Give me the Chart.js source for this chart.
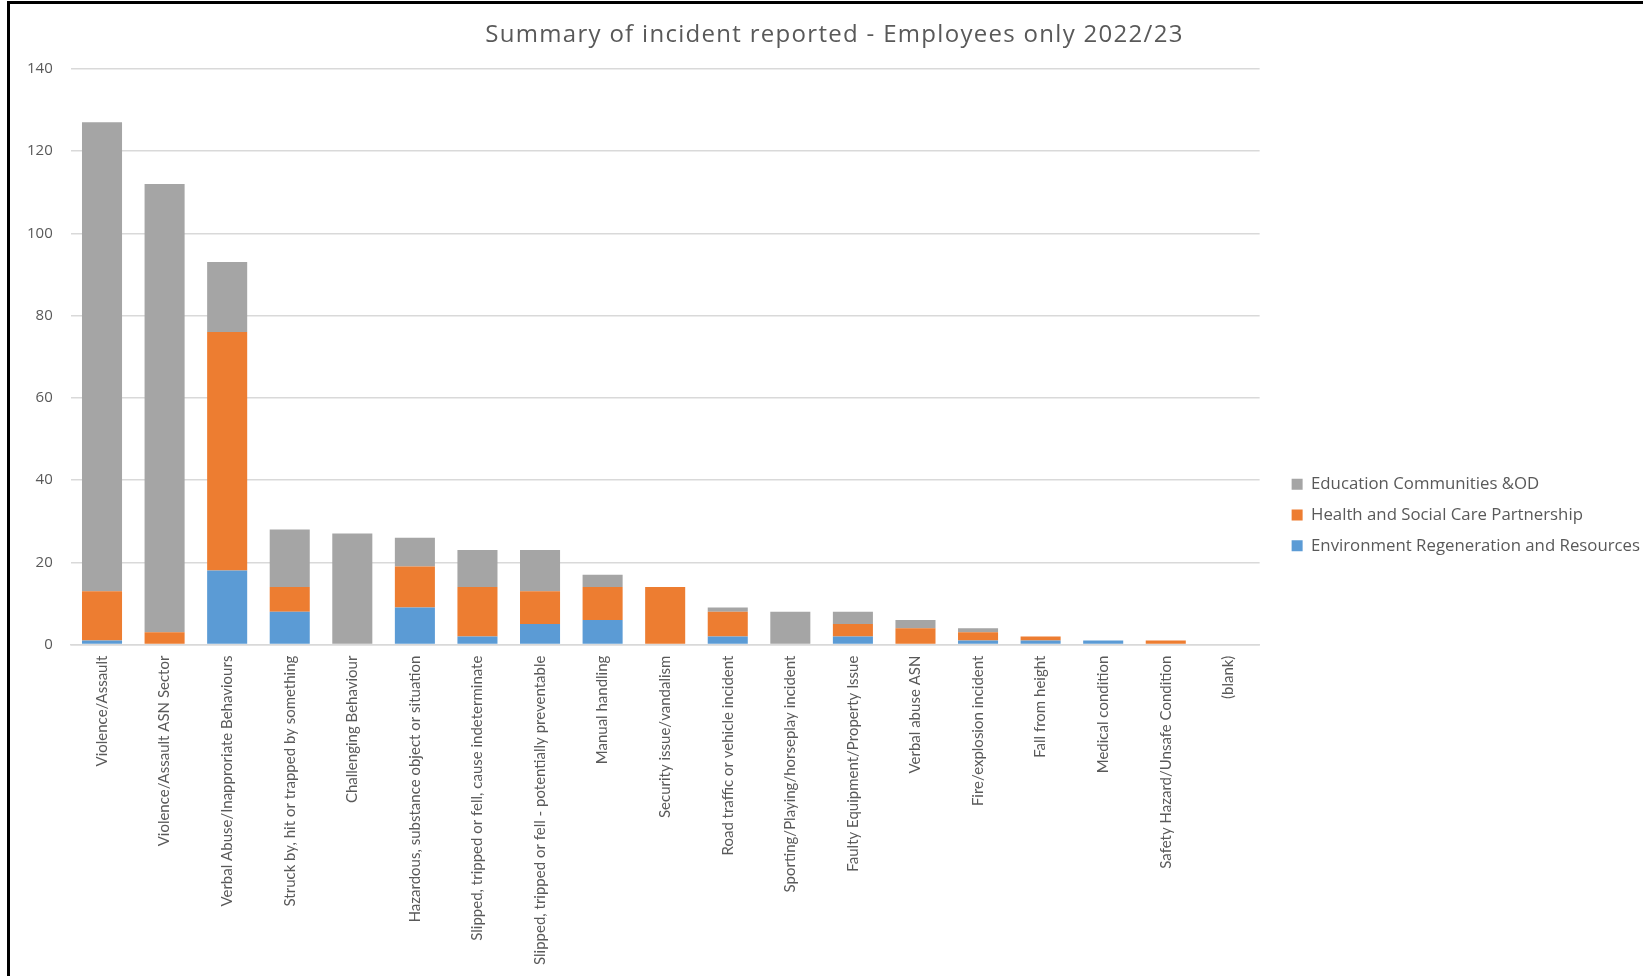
<!DOCTYPE html>
<html lang="en">
<head>
    <meta charset="UTF-8">
    <title>Summary of incident reported - Employees only 2022/23</title>
    <script src="https://cdn.jsdelivr.net/npm/chart.js"></script>
    <style>
        body { margin: 0; background: #fff; }
        .frame { position: relative; width: 1643px; height: 976px; overflow: hidden; }
        .frame canvas { position: absolute; left: 0; top: 0; }
        .edge-top { position: absolute; left: 7px; top: 1px; width: 1636px; height: 3px; background: #000; }
        .edge-left { position: absolute; left: 7px; top: 1px; width: 3px; height: 975px; background: #000; }
    </style>
</head>
<body>
    <div class="frame">
        <canvas id="incidentChart" width="1643" height="976"></canvas>
        <div class="edge-top"></div>
        <div class="edge-left"></div>
    </div>
    <script>
        // incident types, in the order shown on the x axis
        const categories = [
            'Violence/Assault',
            'Violence/Assault ASN Sector',
            'Verbal Abuse/Inapproriate Behaviours',
            'Struck by, hit or trapped by something',
            'Challenging Behaviour',
            'Hazardous, substance object or situation',
            'Slipped, tripped or fell, cause indeterminate',
            'Slipped, tripped or fell - potentially preventable',
            'Manual handling',
            'Security issue/vandalism',
            'Road traffic or vehicle incident',
            'Sporting/Playing/horseplay incident',
            'Faulty Equipment/Property Issue',
            'Verbal abuse ASN',
            'Fire/explosion incident',
            'Fall from height',
            'Medical condition',
            'Safety Hazard/Unsafe Condition',
            '(blank)'
        ];

        // counts per service (stacked bottom to top: environment, health, education)
        const environment = [1, 0, 18, 8, 0, 9, 2, 5, 6, 0, 2, 0, 2, 0, 1, 1, 1, 0, 0];
        const health      = [12, 3, 58, 6, 0, 10, 12, 8, 8, 14, 6, 0, 3, 4, 2, 1, 0, 1, 0];
        const education   = [114, 109, 17, 14, 27, 7, 9, 10, 3, 0, 1, 8, 3, 2, 1, 0, 0, 0, 0];

        const yTicks = [0, 20, 40, 60, 80, 100, 120, 140];

        const labelColor = '#595959';
        const gridColor = '#d9d9d9';

        const chartData = {
            labels: categories,
            datasets: [
                {
                    label: 'Environment Regeneration and Resources',
                    data: environment,
                    backgroundColor: '#5b9bd5'
                },
                {
                    label: 'Health and Social Care Partnership',
                    data: health,
                    backgroundColor: '#ed7d31'
                },
                {
                    label: 'Education Communities &OD',
                    data: education,
                    backgroundColor: '#a5a5a5'
                }
            ]
        };

        const config = {
            type: 'bar',
            data: chartData,
            options: {
                responsive: false,
                animation: false,
                datasets: {
                    bar: { barPercentage: 0.64, categoryPercentage: 1 }
                },
                layout: {
                    // legend text runs almost to the right edge in the original
                    padding: { left: 9, right: -7, top: 15, bottom: 0 }
                },
                plugins: {
                    title: {
                        display: true,
                        text: 'Summary of incident reported - Employees only 2022/23',
                        color: labelColor,
                        font: { family: 'Open Sans', size: 24, weight: 'normal' },
                        padding: { top: 6, bottom: 19 }
                    },
                    legend: {
                        position: 'right',
                        reverse: true,
                        // empty title just pushes the items a little lower
                        title: { display: true, text: '', font: { size: 15 }, padding: { top: 21, bottom: 0 } },
                        labels: {
                            boxWidth: 11,
                            boxHeight: 11,
                            padding: 14,
                            color: labelColor,
                            font: { family: 'Open Sans', size: 16.8 }
                        }
                    },
                    tooltip: { enabled: false }
                },
                scales: {
                    x: {
                        stacked: true,
                        grid: { display: false, drawTicks: false },
                        border: { display: true, color: gridColor, width: 1.5 },
                        ticks: {
                            autoSkip: false,
                            minRotation: 90,
                            maxRotation: 90,
                            padding: 11,
                            color: labelColor,
                            font: { family: 'Lato', size: 15 }
                        }
                    },
                    y: {
                        stacked: true,
                        min: 0,
                        max: 140,
                        afterBuildTicks: axis => { axis.ticks = yTicks.map(v => ({ value: v })); },
                        grid: { color: gridColor, lineWidth: 1.5, drawTicks: false },
                        border: { display: false },
                        ticks: {
                            padding: 18,
                            color: labelColor,
                            font: { family: 'Open Sans', size: 15 }
                        }
                    },
                    // hidden axis, only keeps a gap between plot and legend
                    gap: {
                        type: 'linear',
                        axis: 'y',
                        position: 'right',
                        display: false,
                        afterFit: axis => { axis.width = 18; }
                    }
                }
            }
        };

        const chart = new Chart(document.getElementById('incidentChart'), config);

        // the original title is spaced out a bit wider and sits slightly right
        const titleDraw = chart.titleBlock.draw.bind(chart.titleBlock);
        chart.titleBlock.draw = function () {
            const ctx = chart.ctx;
            ctx.save();
            ctx.letterSpacing = '1.3px';
            ctx.translate(5, 0);
            titleDraw();
            ctx.restore();
        };
        chart.draw();
    </script>
</body>
</html>
